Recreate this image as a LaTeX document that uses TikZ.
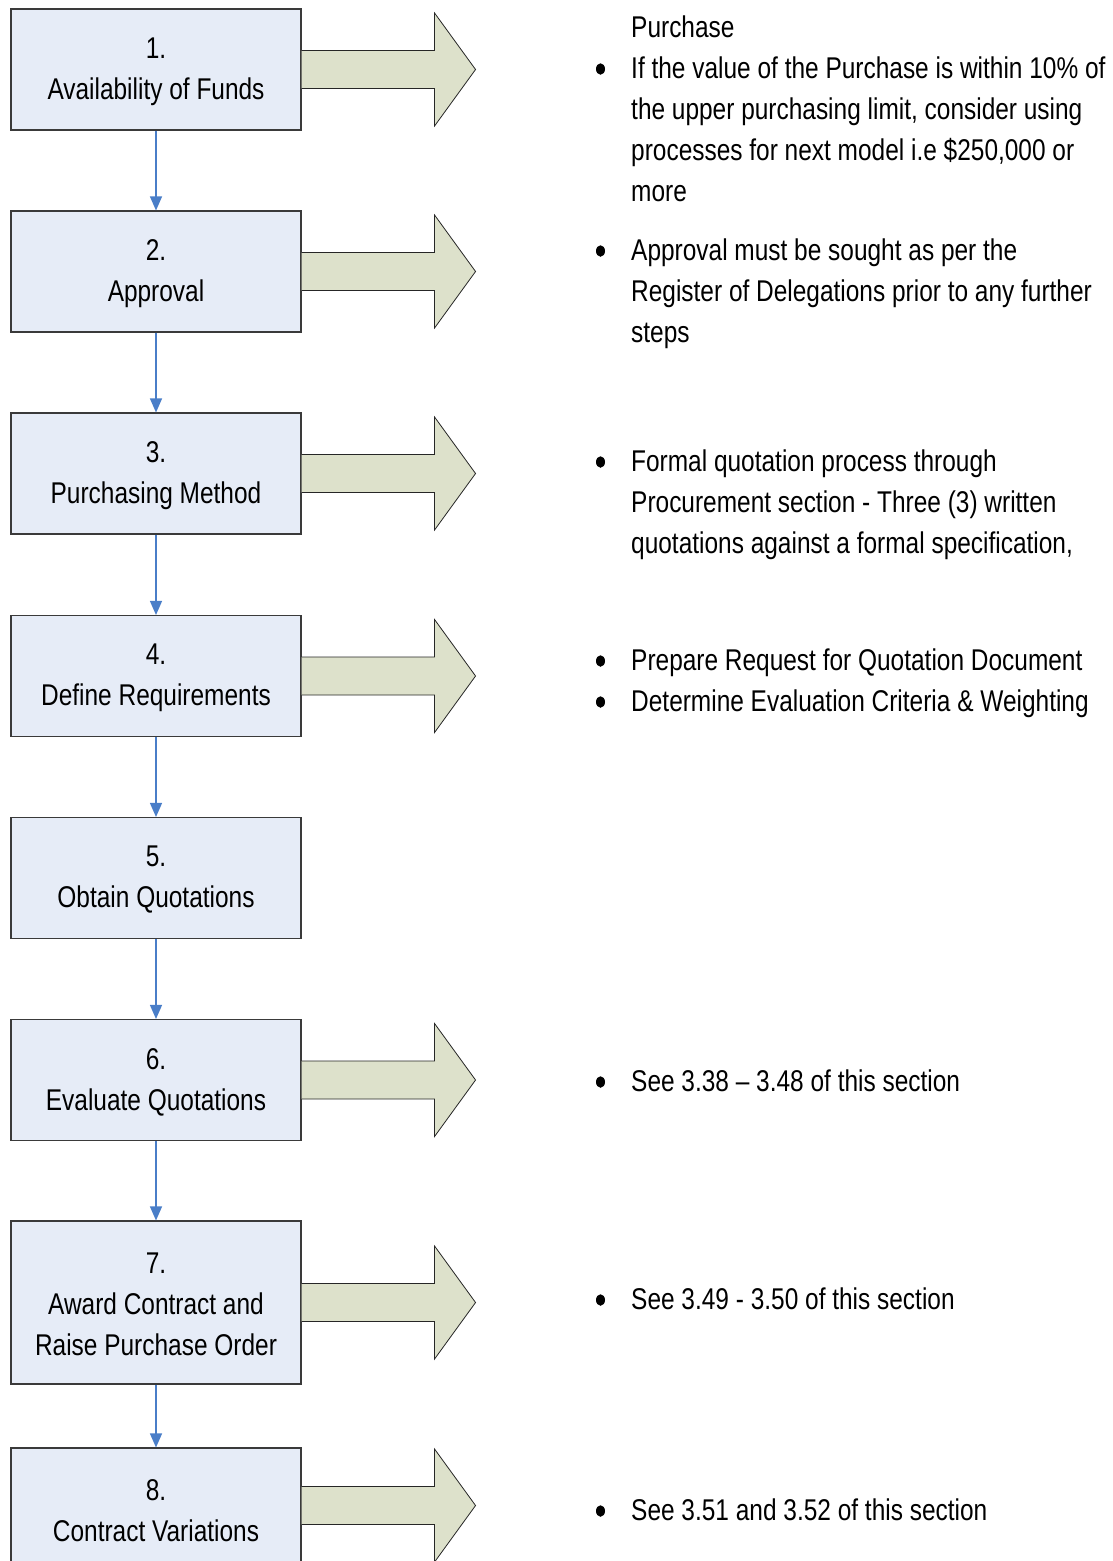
\documentclass[tikz,border=0pt]{standalone}
\usepackage{fontspec}
\setmainfont{Liberation Sans}[FakeStretch=0.815]
\usetikzlibrary{arrows.meta,calc,shapes.geometric}
\definecolor{boxfill}{HTML}{E6ECF7}
\definecolor{boxline}{HTML}{3A3A3A}
\definecolor{arrfill}{HTML}{DDE1CB}
\definecolor{conn}{HTML}{4A7EC8}
\begin{document}
\begin{tikzpicture}[x=1pt,y=-1pt,
  stepbox/.style={draw=boxline,fill=boxfill,line width=1.1pt,minimum width=290pt,minimum height=121pt,
    align=center,inner sep=0pt,font=\fontsize{30}{41}\selectfont},
  boxtext/.style={yshift=-2pt,align=center,inner sep=0pt,font=\fontsize{30}{41}\selectfont},
  flow/.style={draw=conn,line width=1.3pt,-{Triangle[width=12pt,length=14pt]}},
  blockarrow/.style={fill=arrfill,draw=black!85,line width=0.8pt,line join=miter},
  txt/.style={anchor=base west,inner sep=0pt,font=\fontsize{30}{41}\selectfont},
  bul/.style={shape=ellipse,fill=black,inner sep=0pt,minimum width=9pt,minimum height=11.5pt}]
\useasboundingbox (0,0) rectangle (1112,1561);

\def\blockarrow#1#2{%
  \draw[blockarrow] ($(#1.east)+(0,#2-19)$) -- ++(133,0) -- ++(0,-37.5) -- ++(41,56.5) -- ++(-41,56.5) -- ++(0,-37.5) -- ($(#1.east)+(0,#2+19)$);}

% boxes
\node[stepbox,label={[boxtext]center:1.\\Availability of Funds}] (b1) at (156,69.5) {};
\node[stepbox,label={[boxtext]center:2.\\Approval}] (b2) at (156,271.5) {};
\node[stepbox,label={[boxtext]center:3.\\Purchasing Method}] (b3) at (156,473.5) {};
\node[stepbox,label={[boxtext]center:4.\\Define Requirements}] (b4) at (156,676) {};
\node[stepbox,label={[boxtext]center:5.\\Obtain Quotations}] (b5) at (156,878) {};
\node[stepbox,label={[boxtext]center:6.\\Evaluate Quotations}] (b6) at (156,1080) {};
\node[stepbox,minimum height=163pt,label={[boxtext]center:7.\\Award Contract and\\Raise Purchase Order}] (b7) at (156,1302.5) {};
\node[stepbox,label={[boxtext]center:8.\\Contract Variations}] (b8) at (156,1508.5) {};

\blockarrow{b1}{0}
\blockarrow{b2}{0}
\blockarrow{b3}{0}
\blockarrow{b4}{0}
\blockarrow{b6}{0}
\blockarrow{b7}{0}
\blockarrow{b8}{-3}

% connectors
\draw[flow] (b1) -- (b2);
\draw[flow] (b2) -- (b3);
\draw[flow] (b3) -- (b4);
\draw[flow] (b4) -- (b5);
\draw[flow] (b5) -- (b6);
\draw[flow] (b6) -- (b7);
\draw[flow] (b7) -- (b8);

% text group 1
\node[txt] (t1a) at (631,37) {Purchase};
\node[bul] (u1) at (600.5,69) {};
\node[txt] (t1b) at (631,78) {If the value of the Purchase is within 10\% of};
\node[txt] (t1c) at (631,119.3) {the upper purchasing limit, consider using};
\node[txt] (t1d) at (631,160.6) {processes for next model i.e \$250,000 or};
\node[txt] (t1e) at (631,201.9) {more};
% group 2
\node[bul] (u2) at (600.5,251) {};
\node[txt] (t2a) at (631,260) {Approval must be sought as per the};
\node[txt] (t2b) at (631,301.3) {Register of Delegations prior to any further};
\node[txt] (t2c) at (631,342.6) {steps};
% group 3
\node[bul] (u3) at (600.5,462) {};
\node[txt] (t3a) at (631,471) {Formal quotation process through};
\node[txt] (t3b) at (631,512.3) {Procurement section - Three (3) written};
\node[txt] (t3c) at (631,553.6) {quotations against a formal specification,};
% group 4
\node[bul] (u4a) at (600.5,661) {};
\node[txt] (t4a) at (631,670) {Prepare Request for Quotation Document};
\node[bul] (u4b) at (600.5,702) {};
\node[txt] (t4b) at (631,711) {Determine Evaluation Criteria \& Weighting};
% group 6
\node[bul] (u6) at (600.5,1082) {};
\node[txt] (t6) at (631,1091) {See 3.38 – 3.48 of this section};
% group 7
\node[bul] (u7) at (600.5,1300) {};
\node[txt] (t7) at (631,1309) {See 3.49 - 3.50 of this section};
% group 8
\node[bul] (u8) at (600.5,1511) {};
\node[txt] (t8) at (631,1520) {See 3.51 and 3.52 of this section};
\end{tikzpicture}
\end{document}
